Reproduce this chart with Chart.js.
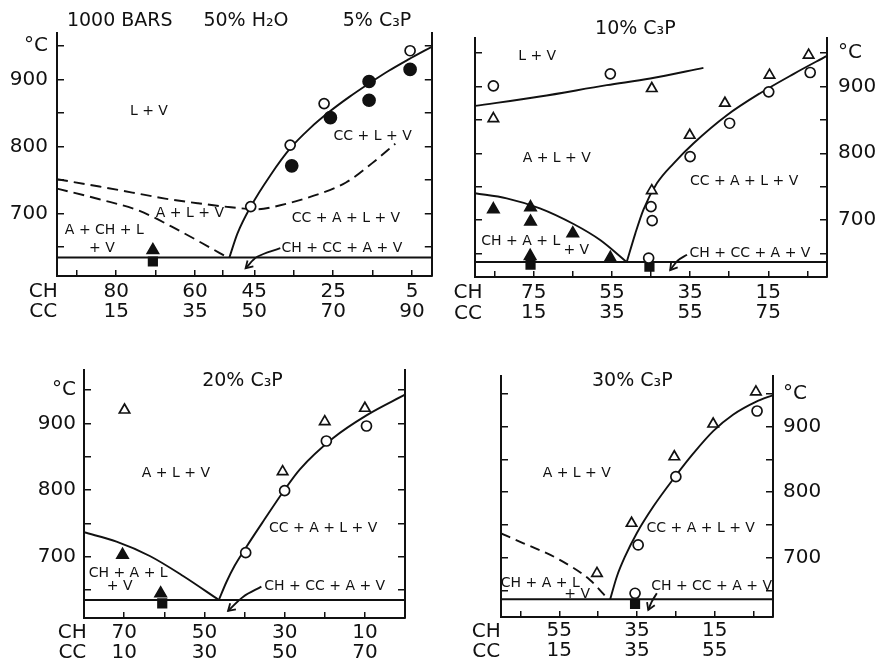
<!DOCTYPE html>
<html>
<head>
<meta charset="utf-8">
<title>CH–CC phase relations, 1000 bars, 50% H2O</title>
<script src="https://cdn.jsdelivr.net/npm/chart.js@4.4.1/dist/chart.umd.min.js"></script>
<style>
html,body{margin:0;padding:0;background:#fff;}
body{width:880px;height:661px;position:relative;overflow:hidden;}
canvas{position:absolute;display:block;}
</style>
</head>
<body>
<canvas id="p1" width="440" height="330" style="left:0px;top:0px"></canvas>
<canvas id="p2" width="440" height="330" style="left:440px;top:0px"></canvas>
<canvas id="p3" width="440" height="331" style="left:0px;top:330px"></canvas>
<canvas id="p4" width="440" height="331" style="left:440px;top:330px"></canvas>
<script>
// ===================== DATA (x = CC wt%, y = temperature °C) =====================
const yTickValues = [650, 700, 750, 800, 850, 900, 950];
const yTickText   = ['', '700', '', '800', '', '900', '°C'];

// ---- Panel 1: 5% C3P (CH + CC = 95) ----
const p1Total = 95;
const p1XTicks = [5, 15, 25, 35, 42, 50, 60, 70, 80, 90];
const p1CH = ['80', '60', '45', '25', '5'];
const p1CC = ['15', '35', '50', '70', '90'];
const p1SolidusCC = [0, 95];
const p1SolidusT  = [634, 634];
const p1LiquidusCC = [43.7, 45.75, 49.1, 54.1, 59.1, 64.1, 69.1, 74.1, 79.1, 84.1, 89.1, 95];
const p1LiquidusT  = [634, 670, 710, 757, 797, 827, 852, 874, 894, 913, 930, 949];
const p1UpperDashCC = [0, 10.75, 19.1, 27.4, 35.75, 44.1, 50.75, 56.6, 64.9, 73.25, 79.9, 85.75];
const p1UpperDashT  = [751, 740, 731, 722, 715, 709, 706, 712, 726, 746, 775, 804];
const p1LowerDashCC = [0, 10.75, 20.75, 29.1, 36.6, 43.25];
const p1LowerDashT  = [737, 721, 704, 680, 656, 634];
const p1OpenCircleCC = [49.1, 59.1, 67.7, 89.5];
const p1OpenCircleT  = [710, 802, 864, 943];
const p1FilledCircleCC = [59.5, 69.3, 79.1, 79.1, 89.5];
const p1FilledCircleT  = [771, 843, 897, 869, 915];
const p1FilledTriCC = [24.3];
const p1FilledTriT  = [645];
const p1SquareCC = [24.3];
const p1SquareT  = [628];
const p1ArrowCC = [56.6, 50.75, 47.8];
const p1ArrowT  = [648, 635, 618];

// ---- Panel 2: 10% C3P (CH + CC = 90) ----
const p2Total = 90;
const p2XTicks = [5, 15, 25, 35, 45, 55, 65, 75, 85];
const p2CH = ['75', '55', '35', '15'];
const p2CC = ['15', '35', '55', '75'];
const p2SolidusCC = [0, 90];
const p2SolidusT  = [637, 637];
const p2UpperCC = [0, 16.6, 33.7, 44.8, 58.4];
const p2UpperT  = [871, 885, 902, 912, 928];
const p2LeftCC = [0, 8.1, 16.6, 25.2, 32, 38.8];
const p2LeftT  = [740, 732.5, 717.5, 694, 670, 637];
const p2LiquidusCC = [38.8, 41, 43.1, 46.5, 50.8, 55.9, 64.4, 72.9, 81.5, 90];
const p2LiquidusT  = [637, 680, 716, 755, 785, 815, 857, 890, 919, 946];
const p2OpenCircleCC = [4.7, 34.6, 55, 65.1, 75.1, 85.7, 45, 45.3, 44.4];
const p2OpenCircleT  = [901, 919, 795, 845, 892, 921, 720, 699, 643];
const p2OpenTriCC = [4.7, 45.2, 45.2, 54.9, 63.9, 75.3, 85.3];
const p2OpenTriT  = [852, 897, 744, 827, 875, 917, 947];
const p2FilledTriCC = [4.7, 14.2, 14.2, 25, 34.6, 14.1];
const p2FilledTriT  = [716, 719, 697.5, 680, 643, 646];
const p2SquareCC = [14.2, 44.6];
const p2SquareT  = [633, 630];
const p2ArrowCC = [54.2, 51.8, 49.9];
const p2ArrowT  = [648, 639, 625];

// ---- Panel 3: 20% C3P (CH + CC = 80) ----
const p3Total = 80;
const p3XTicks = [10, 20, 30, 40, 50, 60, 70];
const p3CH = ['70', '50', '30', '10'];
const p3CC = ['10', '30', '50', '70'];
const p3SolidusCC = [0, 80];
const p3SolidusT  = [635, 635];
const p3LeftCC = [0, 8.1, 16.4, 24.7, 33.6];
const p3LeftT  = [736.6, 722.5, 701, 671, 635];
const p3LiquidusCC = [33.6, 35.5, 37.5, 40.5, 45, 49.6, 53.8, 62.1, 70.4, 80];
const p3LiquidusT  = [635, 662, 686, 715, 756, 797, 831, 878, 912, 943];
const p3OpenTriCC = [10.1, 49.5, 60, 70];
const p3OpenTriT  = [920, 827.5, 902.5, 922.6];
const p3OpenCircleCC = [50, 40.3, 60.4, 70.4];
const p3OpenCircleT  = [799, 706, 873.5, 896];
const p3FilledTriCC = [9.6, 19.1];
const p3FilledTriT  = [702.5, 645];
const p3SquareCC = [19.5];
const p3SquareT  = [630];
const p3ArrowCC = [44.2, 39.7, 35.9];
const p3ArrowT  = [655, 640, 618.6];

// ---- Panel 4: 30% C3P (CH + CC = 70) ----
const p4Total = 70;
const p4XTicks = [5, 15, 25, 35, 45, 55, 65];
const p4CH = ['55', '35', '15'];
const p4CC = ['15', '35', '55'];
const p4SolidusCC = [0, 70];
const p4SolidusT  = [636.5, 636.5];
const p4DashCC = [0, 5.8, 14.4, 22.9, 27.6];
const p4DashT  = [737, 722, 699, 666, 636.5];
const p4LiquidusCC = [28.1, 29.8, 31.9, 34.9, 39.2, 44.8, 49.5, 54.6, 59.7, 65.7, 70];
const p4LiquidusT  = [636.5, 671, 701.5, 737, 778, 823.6, 859, 893, 918, 938, 948];
const p4OpenTriCC = [24.7, 33.6, 44.6, 54.6, 65.6];
const p4OpenTriT  = [676, 752.5, 854, 904, 953];
const p4OpenCircleCC = [35.3, 45, 65.9, 34.5];
const p4OpenCircleT  = [719.4, 823.6, 923.8, 645.7];
const p4SquareCC = [34.5];
const p4SquareT  = [629.4];
const p4ArrowCC = [40.1, 38.8, 37.9];
const p4ArrowT  = [645.7, 632.9, 620.2];

// ---- Text annotations (placed in data units: CC, °C) ----
const p1Texts = [
  {t:'1000 BARS', x:15.9, y:987, f:'head'},
  {t:'50% H₂O', x:47.9, y:987, f:'head'},
  {t:'5% C₃P', x:81.1, y:987, f:'head'},
  {t:'L + V', x:23.3, y:852},
  {t:'CC + L + V', x:80, y:815.5},
  {t:'A + L + V', x:33.7, y:700},
  {t:'CC + A + L + V', x:73.25, y:692.5},
  {t:'A + CH + L', x:12, y:675},
  {t:'+ V', x:11.4, y:647.7},
  {t:'CH + CC + A + V', x:72.2, y:647.7},
  {t:'CH', x:-3.5, y:582.8, f:'axis'},
  {t:'CC', x:-3.5, y:552.9, f:'axis'}
];
const p2Texts = [
  {t:'10% C₃P', x:41, y:986, f:'head'},
  {t:'L + V', x:15.9, y:944.6},
  {t:'A + L + V', x:20.9, y:792.4},
  {t:'CC + A + L + V', x:68.8, y:757.4},
  {t:'CH + A + L', x:11.7, y:667.5},
  {t:'+ V', x:25.9, y:655},
  {t:'CH + CC + A + V', x:70.3, y:650},
  {t:'CH', x:-1.8, y:590.2, f:'axis'},
  {t:'CC', x:-1.8, y:560.2, f:'axis'}
];
const p3Texts = [
  {t:'20% C₃P', x:39.5, y:964, f:'head'},
  {t:'A + L + V', x:22.9, y:825},
  {t:'CC + A + L + V', x:59.6, y:742.6},
  {t:'CH + A + L', x:11, y:675},
  {t:'+ V', x:8.9, y:655},
  {t:'CH + CC + A + V', x:60, y:656},
  {t:'CH', x:-2.9, y:585.1, f:'axis'},
  {t:'CC', x:-2.9, y:555.1, f:'axis'}
];
const p4Texts = [
  {t:'30% C₃P', x:33.8, y:970, f:'head'},
  {t:'A + L + V', x:19.5, y:828.7},
  {t:'CC + A + L + V', x:51.4, y:744.8},
  {t:'CH + A + L', x:10.1, y:661},
  {t:'+ V', x:19.6, y:644.6},
  {t:'CH + CC + A + V', x:54.2, y:655.8},
  {t:'CH', x:-3.8, y:587.1, f:'axis'},
  {t:'CC', x:-3.8, y:556.6, f:'axis'}
];

// ===================== RENDERING =====================
const INK = '#111';
const FONT = '"DejaVu Sans", "Liberation Sans", sans-serif';
const FONTS = {
  head: '19px ' + FONT,
  axis: '20px ' + FONT,
  region: '14px ' + FONT
};

function pts(xs, ys) { return xs.map((x, i) => ({x: x, y: ys[i]})); }

function lineDS(xs, ys, opts) {
  opts = opts || {};
  return {
    data: pts(xs, ys), showLine: true, fill: false,
    borderColor: INK, borderWidth: 1.9,
    borderDash: opts.dash || [],
    pointRadius: 0, pointHoverRadius: 0, pointHitRadius: 0,
    cubicInterpolationMode: opts.arrow ? 'default' : 'monotone',
    tension: opts.arrow ? 0.35 : 0,
    arrowHead: !!opts.arrow,
    order: 5
  };
}
function markDS(xs, ys, style, filled, radius) {
  return {
    data: pts(xs, ys), showLine: false,
    pointStyle: style, pointRadius: radius, pointHoverRadius: radius,
    pointBackgroundColor: filled ? INK : '#fff',
    pointBorderColor: INK, pointBorderWidth: 1.7,
    order: 1
  };
}

function annotPlugin(texts) {
  return {
    id: 'annot',
    afterDatasetsDraw(chart) {
      const ctx = chart.ctx;
      const xs = chart.scales.x, ys = chart.scales.y;
      ctx.save();
      chart.data.datasets.forEach((ds, i) => {
        if (!ds.arrowHead) return;
        const el = chart.getDatasetMeta(i).data;
        const a = el[el.length - 2], b = el[el.length - 1];
        const ang = Math.atan2(b.y - a.y, b.x - a.x);
        const L = 8, spread = 0.55;
        ctx.setLineDash([]);
        ctx.strokeStyle = INK; ctx.lineWidth = 1.8;
        ctx.beginPath();
        ctx.moveTo(b.x - L * Math.cos(ang - spread), b.y - L * Math.sin(ang - spread));
        ctx.lineTo(b.x, b.y);
        ctx.lineTo(b.x - L * Math.cos(ang + spread), b.y - L * Math.sin(ang + spread));
        ctx.stroke();
      });
      ctx.fillStyle = INK;
      ctx.textAlign = 'center';
      ctx.textBaseline = 'middle';
      texts.forEach(tx => {
        ctx.font = FONTS[tx.f || 'region'];
        ctx.fillText(tx.t, xs.getPixelForValue(tx.x), ys.getPixelForValue(tx.y));
      });
      ctx.restore();
    }
  };
}

function makePanel(id, cfg) {
  const canvas = document.getElementById(id);
  const W = canvas.width, H = canvas.height;
  const a = cfg.area;
  const yAxis = (pos, showLabels, pad) => ({
    type: 'linear', position: pos, min: cfg.yMin, max: cfg.yMax,
    afterBuildTicks: ax => { ax.ticks = yTickValues.map(v => ({value: v})); },
    afterFit: ax => { ax.width = pos === 'left' ? a.left : W - a.right; },
    ticks: {
      display: showLabels, autoSkip: false, color: INK, padding: pad,
      font: {family: FONT, size: 20, lineHeight: '20px'},
      callback: v => { const k = yTickValues.indexOf(v); return k < 0 ? '' : yTickText[k]; }
    },
    grid: {display: true, drawOnChartArea: false, drawTicks: true, tickLength: -7, color: INK, tickWidth: 1.5, lineWidth: 1.5},
    border: {display: true, color: INK, width: 2}
  });
  return new Chart(canvas, {
    type: 'scatter',
    data: {datasets: cfg.datasets},
    options: {
      responsive: false, animation: false, devicePixelRatio: 1,
      events: [],
      layout: {padding: {left: 0, right: 0, top: a.top, bottom: 0}},
      plugins: {legend: {display: false}, tooltip: {enabled: false}, title: {display: false}},
      scales: {
        x: {
          type: 'linear', position: 'bottom', min: 0, max: cfg.total,
          afterBuildTicks: ax => { ax.ticks = cfg.xTicks.map(v => ({value: v})); },
          afterFit: ax => { ax.height = H - a.bottom; },
          ticks: {
            autoSkip: false, maxRotation: 0, minRotation: 0, color: INK, padding: cfg.xPad,
            font: {family: FONT, size: 20, lineHeight: '20px'},
            callback: v => { const k = cfg.cc.indexOf(String(v)); return k < 0 ? '' : [cfg.ch[k], cfg.cc[k]]; }
          },
          grid: {display: true, drawOnChartArea: false, drawTicks: true, tickLength: -6, color: INK, tickWidth: 1.5, lineWidth: 1.5},
          border: {display: true, color: INK, width: 2}
        },
        y: yAxis('left', cfg.labelSide === 'left', cfg.yPad),
        y2: yAxis('right', cfg.labelSide === 'right', cfg.yPad)
      }
    },
    plugins: [annotPlugin(cfg.texts)]
  });
}

makePanel('p1', {
  total: p1Total, xTicks: p1XTicks, ch: p1CH, cc: p1CC,
  yMin: 606.3, yMax: 969.5, labelSide: 'left', yPad: 16, xPad: 12,
  area: {left: 57, right: 437, top: 33, bottom: 276},
  texts: p1Texts,
  datasets: [
    markDS(p1OpenCircleCC, p1OpenCircleT, 'circle', false, 5),
    markDS(p1FilledCircleCC, p1FilledCircleT, 'circle', true, 6),
    markDS(p1FilledTriCC, p1FilledTriT, 'triangle', true, 6.5),
    markDS(p1SquareCC, p1SquareT, 'rect', true, 6),
    lineDS(p1SolidusCC, p1SolidusT),
    lineDS(p1LiquidusCC, p1LiquidusT),
    lineDS(p1UpperDashCC, p1UpperDashT, {dash: [11, 6]}),
    lineDS(p1LowerDashCC, p1LowerDashT, {dash: [11, 6]}),
    lineDS(p1ArrowCC, p1ArrowT, {arrow: true})
  ]
});

makePanel('p2', {
  total: p2Total, xTicks: p2XTicks, ch: p2CH, cc: p2CC,
  yMin: 614.6, yMax: 972.7, labelSide: 'right', yPad: 18, xPad: 12,
  area: {left: 35, right: 387, top: 38, bottom: 277},
  texts: p2Texts,
  datasets: [
    markDS(p2OpenCircleCC, p2OpenCircleT, 'circle', false, 5),
    markDS(p2OpenTriCC, p2OpenTriT, 'triangle', false, 6),
    markDS(p2FilledTriCC, p2FilledTriT, 'triangle', true, 6.5),
    markDS(p2SquareCC, p2SquareT, 'rect', true, 6),
    lineDS(p2SolidusCC, p2SolidusT),
    lineDS(p2UpperCC, p2UpperT),
    lineDS(p2LeftCC, p2LeftT),
    lineDS(p2LiquidusCC, p2LiquidusT),
    lineDS(p2ArrowCC, p2ArrowT, {arrow: true})
  ]
});

makePanel('p3', {
  total: p3Total, xTicks: p3XTicks, ch: p3CH, cc: p3CC,
  yMin: 608, yMax: 980, labelSide: 'left', yPad: 15, xPad: 11,
  area: {left: 84, right: 405, top: 40, bottom: 288},
  texts: p3Texts,
  datasets: [
    markDS(p3OpenCircleCC, p3OpenCircleT, 'circle', false, 5),
    markDS(p3OpenTriCC, p3OpenTriT, 'triangle', false, 6),
    markDS(p3FilledTriCC, p3FilledTriT, 'triangle', true, 6.5),
    markDS(p3SquareCC, p3SquareT, 'rect', true, 6),
    lineDS(p3SolidusCC, p3SolidusT),
    lineDS(p3LeftCC, p3LeftT),
    lineDS(p3LiquidusCC, p3LiquidusT),
    lineDS(p3ArrowCC, p3ArrowT, {arrow: true})
  ]
});

makePanel('p4', {
  total: p4Total, xTicks: p4XTicks, ch: p4CH, cc: p4CC,
  yMin: 609.5, yMax: 977.2, labelSide: 'right', yPad: 17, xPad: 10,
  area: {left: 61, right: 333, top: 46, bottom: 287},
  texts: p4Texts,
  datasets: [
    markDS(p4OpenCircleCC, p4OpenCircleT, 'circle', false, 5),
    markDS(p4OpenTriCC, p4OpenTriT, 'triangle', false, 6),
    markDS(p4SquareCC, p4SquareT, 'rect', true, 6),
    lineDS(p4SolidusCC, p4SolidusT),
    lineDS(p4DashCC, p4DashT, {dash: [10, 6]}),
    lineDS(p4LiquidusCC, p4LiquidusT),
    lineDS(p4ArrowCC, p4ArrowT, {arrow: true})
  ]
});
</script>
</body>
</html>
